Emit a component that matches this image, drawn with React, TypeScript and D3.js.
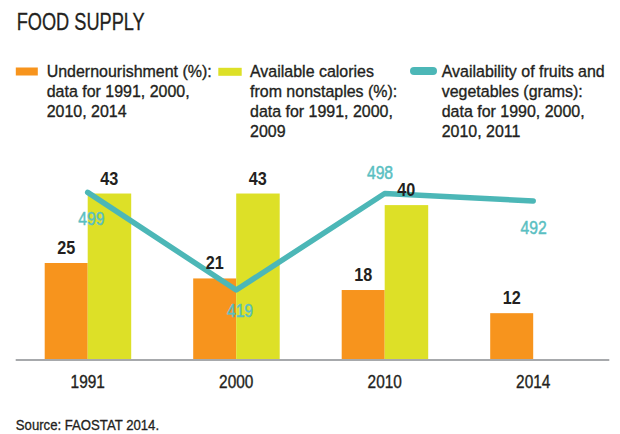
import React from "react";
import * as d3 from "d3";

const years = ["1991", "2000", "2010", "2014"];
const undernourishment = [25, 21, 18, 12];
const calories: (number | null)[] = [43, 43, 40, null];
const fruitsVeg = [499, 419, 498, 492];

const legendUnder = ["Undernourishment (%):", "data for 1991, 2000,", "2010, 2014"];
const legendCal = ["Available calories", "from nonstaples (%):", "data for 1991, 2000,", "2009"];
const legendFruit = ["Availability of fruits and", "vegetables (grams):", "data for 1990, 2000,", "2010, 2011"];

const ORANGE = "#f7941d";
const YELLOW = "#dde027";
const TEAL = "#4cb7b7";
const TEAL_TXT = "#5abfc2";
const INK = "#231f20";
const FONT = "'Liberation Sans', Arial, sans-serif";

type TProps = {
  x: number; y: number; size: number; sx?: number; anchor?: "start" | "middle" | "end";
  fill?: string; weight?: string | number; sw?: number; children: React.ReactNode;
};
function T({ x, y, size, sx = 0.94, anchor = "start", fill = INK, weight = "normal", sw = 0.35, children }: TProps) {
  return (
    <text transform={`translate(${x},${y}) scale(${sx},1)`} fontSize={size} textAnchor={anchor} fill={fill}
      stroke={fill} strokeWidth={sw} fontWeight={weight}>
      {children}
    </text>
  );
}

export default function App() {
  const W = 620, H = 434;
  const xJ = d3.scalePoint<string>().domain(years).range([87.7, 533.2]);
  const barW = 43;
  const baseY = 359.5;
  const yBar = d3.scaleLinear().domain([0, 50]).range([baseY, baseY - 50 * 3.86]);
  const yLine = d3.scaleLinear().domain([400, 520]).range([313.2, 166.7]);

  const line = d3.line<number>()
    .x((_, i) => xJ(years[i]) as number)
    .y((d) => yLine(d));

  const lineLabelOffsets = [
    { dx: 3.6, dy: 32.7 },
    { dx: 3.8, dy: 26.7 },
    { dx: -4.7, dy: -15 },
    { dx: 0.5, dy: 32.7 },
  ];

  const legendX = [46.7, 250, 441.7];
  const baselines = (i: number) => 76.5 + i * 20;

  return (
    <svg width={W} height={H} style={{ position: "absolute", left: 0, top: 0, background: "#fff" }} fontFamily={FONT}>
      <text x={16.7} y={30} fontSize={23} fill={INK} stroke={INK} strokeWidth={0.3} textLength={128} lengthAdjust="spacingAndGlyphs">FOOD SUPPLY</text>

      {/* legend */}
      <rect x={15.8} y={67.5} width={22} height={8} fill={ORANGE} />
      {legendUnder.map((t, i) => (
        <T key={t} x={legendX[0]} y={baselines(i)} size={17}>{t}</T>
      ))}
      <rect x={218.3} y={67.8} width={23.4} height={8} fill={YELLOW} />
      {legendCal.map((t, i) => (
        <T key={t} x={legendX[1]} y={baselines(i)} size={17}>{t}</T>
      ))}
      <line x1={414} x2={433} y1={71} y2={71} stroke={TEAL} strokeWidth={8} strokeLinecap="round" />
      {legendFruit.map((t, i) => (
        <T key={t} x={legendX[2]} y={baselines(i)} size={17}>{t}</T>
      ))}

      {/* bars */}
      {years.map((yr, i) => {
        const j = xJ(yr) as number;
        const u = undernourishment[i];
        const c = calories[i];
        return (
          <g key={yr}>
            <rect x={j - barW} y={yBar(u)} width={barW} height={baseY - yBar(u)} fill={ORANGE} />
            {c != null && (
              <rect x={j} y={yBar(c)} width={barW + 0.5} height={baseY - yBar(c)} fill={YELLOW} />
            )}
          </g>
        );
      })}

      {/* axis */}
      <line x1={15.7} x2={609.3} y1={baseY + 0.5} y2={baseY + 0.5} stroke="#a7a9ac" strokeWidth={2} />
      {years.map((yr) => (
        <T key={yr} x={xJ(yr) as number} y={388.3} size={17.5} sx={0.88} anchor="middle">{yr}</T>
      ))}

      {/* line */}
      <path d={line(fruitsVeg) || ""} fill="none" stroke={TEAL} strokeWidth={5.5} strokeLinejoin="round" strokeLinecap="round" />
      {fruitsVeg.map((v, i) => (
        <T key={i} x={(xJ(years[i]) as number) + lineLabelOffsets[i].dx} y={yLine(v) + lineLabelOffsets[i].dy} size={18.5} sx={0.85} sw={0.5} anchor="middle" fill={TEAL_TXT}>{v}</T>
      ))}

      {/* bar value labels (drawn above the line) */}
      {years.map((yr, i) => {
        const j = xJ(yr) as number;
        const u = undernourishment[i];
        const c = calories[i];
        return (
          <g key={"lbl" + yr}>
            <T x={j - barW / 2} y={yBar(u) - 9} size={18} sx={0.9} weight="bold" sw={0} anchor="middle">{u}</T>
            {c != null && (
              <T x={j + barW / 2} y={yBar(c) - 9} size={18} sx={0.9} weight="bold" sw={0} anchor="middle">{c}</T>
            )}
          </g>
        );
      })}

      <T x={15.8} y={430} size={14} sw={0.3}>Source: FAOSTAT 2014.</T>
    </svg>
  );
}
